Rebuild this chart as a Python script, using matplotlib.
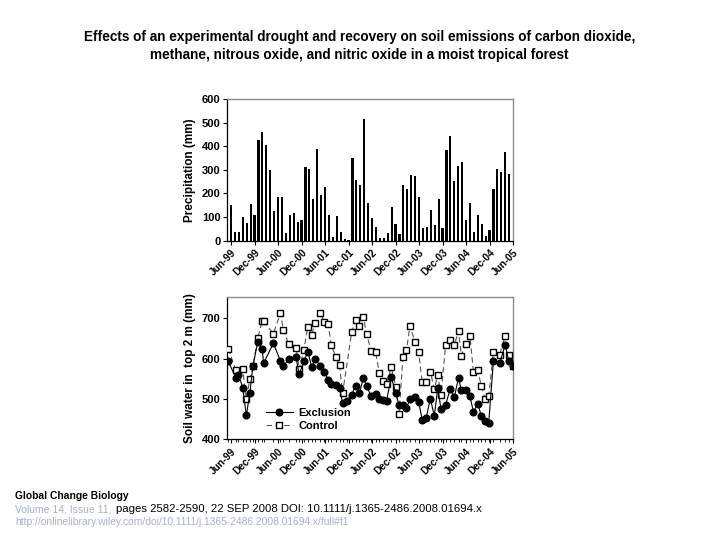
"""
Precipitation and soil water under drought exclusion vs control (Jun-99 to Jun-05).
"""
import numpy as np
import matplotlib
matplotlib.use('Agg')
import matplotlib.pyplot as plt

plt.rcParams['font.family'] = ['Liberation Sans', 'DejaVu Sans']

# monthly precipitation (mm), Jun-99 .. May-05
precip = [153, 38, 35, 102, 73, 155, 110, 428, 462, 407, 300, 125,
          183, 186, 33, 107, 117, 81, 86, 313, 302, 175, 388, 195,
          228, 107, 15, 104, 38, 8, 3, 350, 256, 236, 515, 160,
          95, 59, 11, 11, 32, 144, 72, 30, 237, 219, 277, 273,
          185, 54, 56, 130, 65, 175, 55, 383, 445, 254, 318, 333,
          89, 160, 37, 109, 69, 21, 44, 217, 302, 292, 377, 282]

tick_labels = ['Jun-99', 'Dec-99', 'Jun-00', 'Dec-00', 'Jun-01', 'Dec-01', 'Jun-02',
               'Dec-02', 'Jun-03', 'Dec-03', 'Jun-04', 'Dec-04', 'Jun-05']

# soil water sampling dates (months since Jun-99) and values (mm)
sw_month = [-0.7, 1.2, 1.9, 3.0, 3.9, 4.8, 5.6, 6.8, 8.0, 8.3, 10.8, 12.6, 13.4, 14.7,
            16.6, 17.4, 18.6, 19.6, 20.6, 21.5, 22.7, 23.8, 24.8, 25.6, 26.8, 27.7,
            28.5, 29.5, 30.8, 31.8, 32.8, 33.8, 34.6, 35.8, 36.9, 37.9, 38.8, 39.7,
            40.9, 42.1, 42.9, 43.9, 44.8, 45.7, 46.9, 47.9, 48.8, 49.8, 50.9, 51.9,
            52.8, 53.6, 54.8, 56.0, 57.0, 58.1, 58.8, 59.9, 61.0, 61.9, 63.0, 63.9,
            64.9, 65.8, 67.0, 68.6, 70.0, 70.9, 72.0]
exclusion = [593, 553, 560, 528, 459, 514, 582, 640, 623, 588, 638, 595, 582, 598,
             603, 561, 593, 617, 580, 600, 582, 568, 548, 537, 535, 526,
             491, 495, 511, 532, 514, 553, 531, 507, 513, 501, 497, 495,
             554, 514, 485, 485, 477, 500, 505, 493, 449, 452, 501, 458,
             528, 475, 486, 525, 504, 553, 521, 521, 507, 468, 488, 458,
             445, 441, 594, 589, 634, 595, 582]
control = [625, 572, np.nan, 575, 499, 549, 582, 650, 694, 693, 662, 712, 671, 636,
           626, 574, 622, 678, 659, 689, 714, 692, 685, 634, 604, 583,
           515, np.nan, 665, 696, 682, 704, 662, 619, 616, 564, 544, 536,
           579, 529, 463, 605, 621, 682, 642, 617, 542, 542, 568, 524,
           560, 510, 634, 645, 633, 669, 607, 637, 657, 567, 571, 532,
           499, 507, 617, 610, 657, 608, 582]

fig = plt.figure(figsize=(7.19, 5.39), dpi=100)

fig.text(0.5, 0.915, "Effects of an experimental drought and recovery on soil emissions of carbon dioxide,\n"
         "methane, nitrous oxide, and nitric oxide in a moist tropical forest",
         ha='center', va='center', fontsize=9.8, fontweight='bold', linespacing=1.35)

tick_pos = np.arange(0, 73, 6)


def style_axis(ax):
    ax.set_xlim(-0.9, 72)
    ax.set_xticks(tick_pos)
    ax.set_xticklabels(tick_labels, rotation=45, ha='right', rotation_mode='anchor',
                       fontsize=7.2, fontweight='bold')
    ax.tick_params(axis='both', direction='out', length=3, width=0.8, pad=2)
    ax.tick_params(axis='y', labelsize=8, pad=2)
    for lab in ax.get_yticklabels():
        lab.set_fontweight('bold')
    for side in ['top', 'right']:
        ax.spines[side].set_color('#8c8c8c')
        ax.spines[side].set_linewidth(1.0)
    for side in ['left', 'bottom']:
        ax.spines[side].set_linewidth(0.9)


# precipitation bars
ax1 = fig.add_axes([0.3164, 0.5534, 0.3971, 0.2629])
months = np.arange(len(precip))
ax1.bar(months, precip, width=0.55, color='black', edgecolor='none')
ax1.set_ylim(0, 600)
ax1.set_yticks(np.arange(0, 601, 100))
style_axis(ax1)
ax1.set_ylabel("Precipitation (mm)", fontsize=8.5, fontweight='bold', labelpad=4)

# soil water
ax2 = fig.add_axes([0.3164, 0.185, 0.3971, 0.2634])
x = np.array(sw_month)
ctrl = np.array(control, dtype=float)
ok = ~np.isnan(ctrl)
ax2.plot(x[ok], ctrl[ok], color='#555555', linestyle=(0, (5, 3)), linewidth=0.8,
         marker='s', markersize=4.3, markerfacecolor='white', markeredgecolor='black',
         markeredgewidth=1.0, label='Control', zorder=3)
ax2.plot(x, exclusion, color='black', linewidth=0.8, marker='o', markersize=4.8,
         markerfacecolor='black', markeredgecolor='black', label='Exclusion', zorder=4)
ax2.set_ylim(400, 752)
ax2.set_yticks([400, 500, 600, 700])
ax2.set_xticks(x, minor=True)
ax2.tick_params(axis='x', which='minor', direction='out', length=2, width=0.6)
style_axis(ax2)
ax2.set_ylabel("Soil water in  top 2 m (mm)", fontsize=8.5, fontweight='bold', labelpad=4)
h, l = ax2.get_legend_handles_labels()
leg = ax2.legend(h[::-1], l[::-1], loc='lower left', bbox_to_anchor=(0.1, -0.01),
                 frameon=False, handlelength=2.4, handletextpad=0.5, labelspacing=0.25,
                 prop={'size': 8, 'weight': 'bold'})

# citation footer
fig.text(15 / 719, 1 - 496 / 539, "Global Change Biology", fontsize=7.4, fontweight='bold',
         va='center', ha='left')
fig.text(15 / 719, 1 - 509 / 539, "Volume 14, Issue 11,", fontsize=7.5, color='#a6b0d2',
         va='center', ha='left')
fig.text(116 / 719, 1 - 509 / 539, "pages 2582-2590, 22 SEP 2008 DOI: 10.1111/j.1365-2486.2008.01694.x",
         fontsize=8.2, color='black', va='center', ha='left')
fig.text(15 / 719, 1 - 522 / 539,
         "http://onlinelibrary.wiley.com/doi/10.1111/j.1365-2486.2008.01694.x/full#f1",
         fontsize=7.4, color='#a6b0d2', va='center', ha='left')

plt.savefig("out.png", dpi=100)
plt.close()
